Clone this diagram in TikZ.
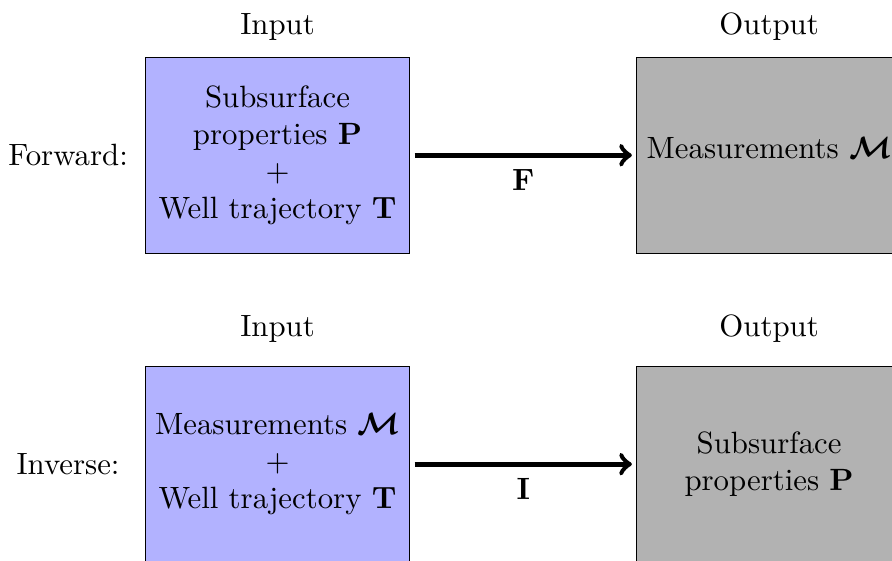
\documentclass[tikz,border=0pt]{standalone}
\usepackage{amsmath}
\usetikzlibrary{positioning,arrows}

\begin{document}
\begin{tikzpicture}[x=1pt,y=1pt,
  inbox/.style={draw,fill=blue!30,inner xsep=3pt,minimum width=85.9pt,minimum height=63.6pt,align=center},
  outbox/.style={draw,fill=gray!60,inner xsep=3pt,minimum width=85.9pt,minimum height=63.6pt,align=center},
  map/.style={->,ultra thick,shorten <=1.4pt,shorten >=1.4pt}]

\useasboundingbox (0,0) rectangle (289.6,-182.1);

\def\colgap{73.3pt}
\def\rowgap{36.3pt}
\def\labx{22.1}

% forward problem
\node[inbox] (fwdin) at (90.1,-50.4) {Subsurface\\properties $\mathbf{P}$\\$+$\\Well trajectory $\mathbf{T}$};
\node[outbox,right=\colgap of fwdin,text depth=4.9pt] (fwdout) {Measurements $\boldsymbol{\mathcal{M}}$};
\node (fwdlab) at (fwdin -| \labx,0) {Forward:};
\draw[map] (fwdin) -- node[below=0.6pt] (fwdmap) {$\mathbf{F}$} (fwdout);

% inverse problem
\node[inbox,below=\rowgap of fwdin] (invin) {Measurements $\boldsymbol{\mathcal{M}}$\\$+$\\Well trajectory $\mathbf{T}$};
\node[outbox,right=\colgap of invin] (invout) {Subsurface\\properties $\mathbf{P}$};
\node (invlab) at (invin -| \labx,0) {Inverse:};
\draw[map] (invin) -- node[below=0.6pt] (invmap) {$\mathbf{I}$} (invout);

% column titles
\foreach \b/\t in {fwdin/Input,fwdout/Output}
  \node[above=1.7pt of \b] (\b-title) {\t};
\foreach \b/\t in {invin/Input,invout/Output}
  \node[above=3.9pt of \b] (\b-title) {\t};

\end{tikzpicture}
\end{document}
